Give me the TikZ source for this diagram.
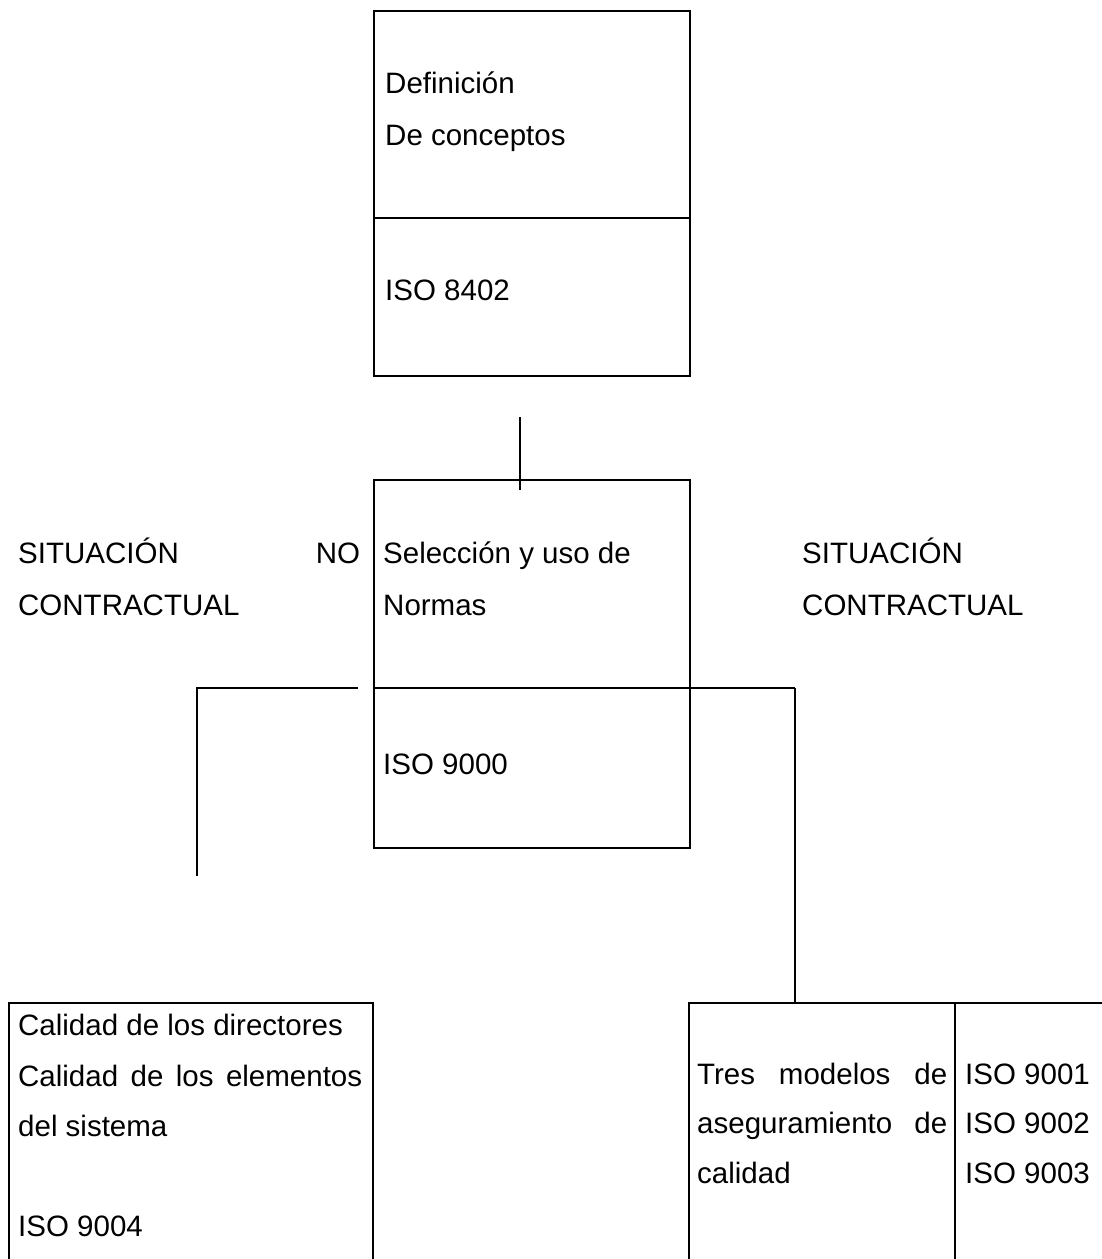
\documentclass[tikz,border=0pt]{standalone}
\usepackage{fontspec}
\setmainfont{Liberation Sans}
\begin{document}
\begin{tikzpicture}[x=1pt,y=-1pt,
  boxline/.style={draw=black,line width=2.4pt},
  thinline/.style={draw=black,line width=1.4pt},
  conn/.style={draw=black,line width=2.4pt},
  lbl/.style={anchor=base west,inner sep=0pt,font=\fontsize{29.5}{36}\selectfont}]
\useasboundingbox (0,0) rectangle (1101,1259);
% top box
\node[boxline,rectangle,minimum width=316pt,minimum height=365pt,inner sep=0pt,anchor=north west] (top) at (373,10) {};
\draw[thinline] (373,218) coordinate (tdl) -- (689,218) coordinate (tdr);
\node[lbl] (t1) at (385,93) {Definición};
\node[lbl] (t2) at (385,145) {De conceptos};
\node[lbl] (t3) at (385,300) {ISO 8402};
% middle box
\node[boxline,rectangle,minimum width=316pt,minimum height=368pt,inner sep=0pt,anchor=north west] (mid) at (373,479) {};
\draw[boxline] (373,688) coordinate (mdl) -- (689,688) coordinate (mdr);
\node[lbl] (m1) at (383,563) {Selección y uso de};
\node[lbl] (m2) at (383,615) {Normas};
\node[lbl] (m3) at (383,774) {ISO 9000};
% side labels
\node[lbl] (l1) at (18,563) {\hbox to 342pt{SITUACIÓN\hfill NO}};
\node[lbl] (l2) at (18,615) {CONTRACTUAL};
\node[lbl] (r1) at (802,563) {SITUACIÓN};
\node[lbl] (r2) at (802,615) {CONTRACTUAL};
% connectors
\coordinate (v1) at (520,417);
\coordinate (v2) at (520,490);
\draw[conn] (v1) -- (v2);
\coordinate (lh1) at (358,688);
\coordinate (lh2) at (197,688);
\coordinate (lv) at (197,876);
\draw[conn] (lh1) -- (lh2) -- (lv);
\coordinate (rh1) at (689,688);
\coordinate (rh2) at (795,688);
\coordinate (rv) at (795,1003);
\draw[conn] (rh1) -- (rh2);
\draw[thinline,line width=1.6pt] (rh2) -- (rv);
% bottom left box (open at bottom)
\coordinate (bl1) at (9,1270);
\coordinate (bl2) at (9,1003);
\coordinate (bl3) at (373,1003);
\coordinate (bl4) at (373,1270);
\draw[boxline] (bl1) -- (bl2) -- (bl3) -- (bl4);
\node[lbl] (b1) at (18,1035) {Calidad de los directores};
\node[lbl] (b2) at (18,1086) {\hbox to 344pt{Calidad\hfill de\hfill los\hfill elementos}};
\node[lbl] (b3) at (18,1136) {del sistema};
\node[lbl] (b4) at (18,1236) {ISO 9004};
% bottom right box (open at bottom and right)
\coordinate (br1) at (689,1270);
\coordinate (br2) at (689,1003);
\coordinate (br3) at (1105,1003);
\draw[boxline] (br1) -- (br2) -- (br3);
\draw[thinline] (955,1003) coordinate (bd1) -- (955,1270) coordinate (bd2);
\node[lbl] (c1) at (697,1084) {\hbox to 250pt{Tres\hfill modelos\hfill de}};
\node[lbl] (c2) at (697,1133) {\hbox to 250pt{aseguramiento\hfill de}};
\node[lbl] (c3) at (697,1183) {calidad};
\node[lbl] (d1) at (965,1084) {ISO 9001};
\node[lbl] (d2) at (965,1133) {ISO 9002};
\node[lbl] (d3) at (965,1183) {ISO 9003};
\end{tikzpicture}
\end{document}
